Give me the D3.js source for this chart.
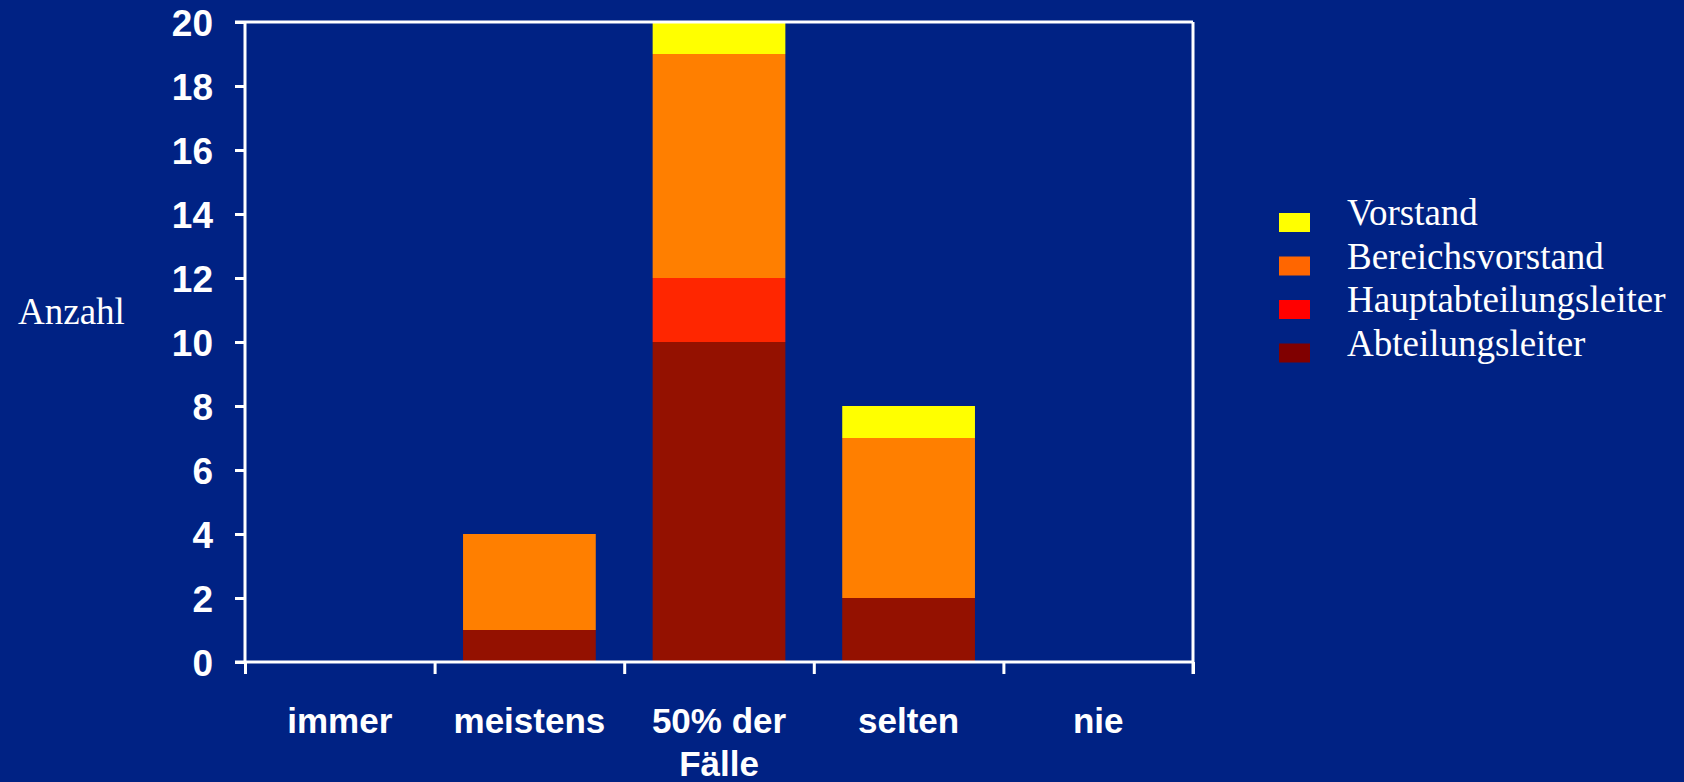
<!DOCTYPE html>
<html>
<head>
<meta charset="utf-8">
<script src="https://cdn.jsdelivr.net/npm/d3@7"></script>
<style>
	html, body { margin: 0; padding: 0; background: #002284; }
	svg { display: block; }
</style>
</head>
<body>
<div id="chart"></div>
<script>
// values
var categories = ['immer', 'meistens', '50% der Fälle', 'selten', 'nie']
var seriesNames = ['Abteilungsleiter', 'Hauptabteilungsleiter', 'Bereichsvorstand', 'Vorstand']
var abteilungsleiter = [0, 1, 10, 2, 0]
var hauptabteilungsleiter = [0, 0, 2, 0, 0]
var bereichsvorstand = [0, 3, 7, 5, 0]
var vorstand = [0, 0, 1, 1, 0]
var yTicks = [0, 2, 4, 6, 8, 10, 12, 14, 16, 18, 20]

var barColors = ['#941100', '#ff2600', '#ff7f00', '#ffff00']
var legendColors = ['#800000', '#ff0000', '#ff6600', '#ffff00']

var width = 1684, height = 782
var margin = {top: 22, left: 245, right: 491, bottom: 120}
var innerW = width - margin.left - margin.right
var innerH = height - margin.top - margin.bottom

var svg = d3.select('#chart').append('svg')
	.attr('width', width)
	.attr('height', height)

svg.append('rect').attr('width', width).attr('height', height).attr('fill', '#002284')

var g = svg.append('g').attr('transform', 'translate(' + margin.left + ',' + margin.top + ')')

var table = categories.map(function(c, i) {
	return {
		cat: c,
		'Abteilungsleiter': abteilungsleiter[i],
		'Hauptabteilungsleiter': hauptabteilungsleiter[i],
		'Bereichsvorstand': bereichsvorstand[i],
		'Vorstand': vorstand[i]
	}
})
var stacked = d3.stack().keys(seriesNames)(table)

var x = d3.scaleBand().domain(categories).range([0, innerW]).paddingInner(0.3).paddingOuter(0.15)
var xEdges = d3.scaleLinear().domain([0, categories.length]).range([0, innerW])
var y = d3.scaleLinear().domain([0, 20]).range([innerH, 0])

// bars
g.selectAll('g.layer')
	.data(stacked)
	.enter().append('g')
	.attr('class', 'layer')
	.attr('fill', function(d, i) { return barColors[i] })
	.selectAll('rect')
	.data(function(d) { return d })
	.enter().append('rect')
	.attr('x', function(d) { return x(d.data.cat) })
	.attr('width', x.bandwidth())
	.attr('y', function(d) { return y(d[1]) })
	.attr('height', function(d) { return y(d[0]) - y(d[1]) })

// frame: top and right lines
g.append('line').attr('x1', -10).attr('x2', innerW).attr('y1', 0).attr('y2', 0)
	.attr('stroke', '#fff').attr('stroke-width', 3)
g.append('line').attr('x1', innerW).attr('x2', innerW).attr('y1', 0).attr('y2', innerH + 12)
	.attr('stroke', '#fff').attr('stroke-width', 3)

// y axis
var yAxis = g.append('g')
	.call(d3.axisLeft(y).tickValues(yTicks).tickSize(10).tickPadding(22))
yAxis.select('.domain').attr('stroke', '#fff').attr('stroke-width', 3)
	.attr('d', 'M0,0V' + innerH)
yAxis.selectAll('.tick line').attr('stroke', '#fff').attr('stroke-width', 3)
yAxis.selectAll('.tick text')
	.attr('fill', '#fff')
	.attr('dy', '0.36em')
	.style('font-family', '"Liberation Sans", Arial, sans-serif')
	.style('font-weight', 'bold')
	.style('font-size', '37px')

// x axis: boundary ticks
var xAxis = g.append('g').attr('transform', 'translate(0,' + innerH + ')')
	.call(d3.axisBottom(xEdges).tickValues(d3.range(categories.length + 1)).tickSize(12).tickFormat(''))
xAxis.select('.domain').attr('stroke', '#fff').attr('stroke-width', 3)
	.attr('d', 'M-10,0H' + innerW)
xAxis.selectAll('.tick line').attr('stroke', '#fff').attr('stroke-width', 3)

// category labels
var labels = g.append('g').attr('transform', 'translate(0,' + innerH + ')')
	.call(d3.axisBottom(x).tickSize(0).tickPadding(0))
labels.select('.domain').remove()
labels.selectAll('.tick text')
	.attr('fill', '#fff')
	.attr('y', 71)
	.attr('dy', 0)
	.style('font-family', '"Liberation Sans", Arial, sans-serif')
	.style('font-weight', 'bold')
	.style('font-size', '35px')
	.call(wrap, 185)

function wrap(texts, w) {
	texts.each(function() {
		var text = d3.select(this)
		var words = text.text().split(' ')
		var yy = text.attr('y')
		text.text(null)
		var line = []
		var lineNo = 0
		var tspan = text.append('tspan').attr('x', 0).attr('y', yy)
		words.forEach(function(word) {
			line.push(word)
			tspan.text(line.join(' '))
			if (tspan.node().getComputedTextLength() > w && line.length > 1) {
				line.pop()
				tspan.text(line.join(' '))
				line = [word]
				lineNo++
				tspan = text.append('tspan').attr('x', 0).attr('y', +yy + lineNo * 43).text(word)
			}
		})
	})
}

// y title
svg.append('text')
	.attr('x', 18).attr('y', 324)
	.attr('fill', '#fff')
	.style('font-family', '"Liberation Serif", "Times New Roman", serif')
	.style('font-size', '37px')
	.text('Anzahl')

// legend, top entry is the top of the stack
var legend = svg.append('g').attr('transform', 'translate(1279,213)')
var legendItems = legend.selectAll('g')
	.data(seriesNames.slice().reverse())
	.enter().append('g')
	.attr('transform', function(d, i) { return 'translate(0,' + (i * 43.5) + ')' })
legendItems.append('rect')
	.attr('width', 31).attr('height', 19)
	.attr('fill', function(d, i) { return legendColors[legendColors.length - 1 - i] })
legendItems.append('text')
	.attr('x', 68).attr('y', 12)
	.attr('fill', '#fff')
	.style('font-family', '"Liberation Serif", "Times New Roman", serif')
	.style('font-size', '37px')
	.text(function(d) { return d })
</script>
</body>
</html>
